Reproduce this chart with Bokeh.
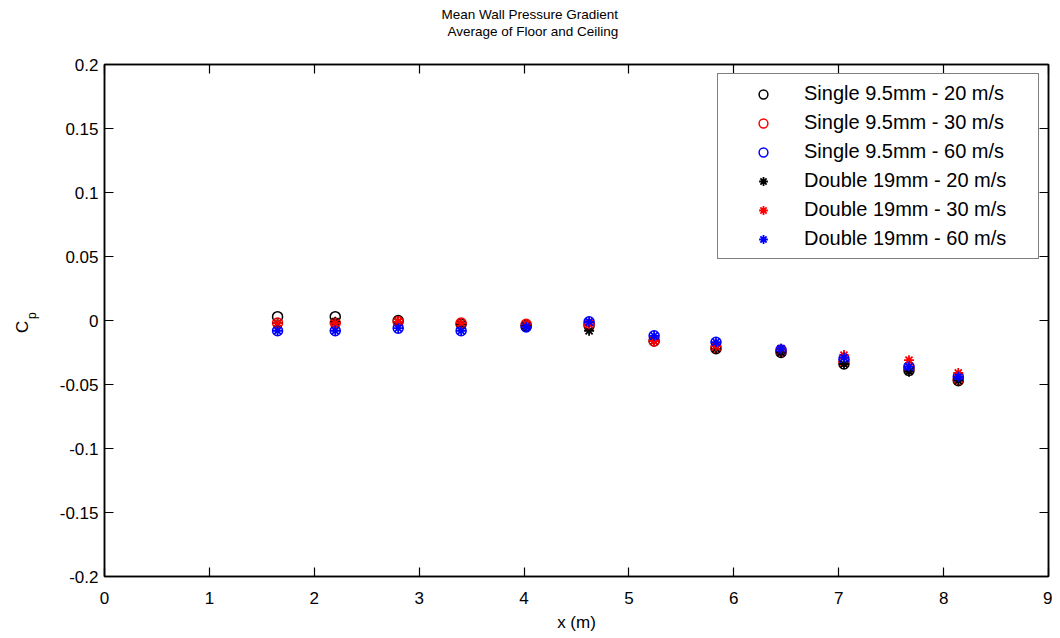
import math
from bokeh.plotting import figure
from bokeh.layouts import row
from bokeh.models import (FixedTicker, LinearAxis, Legend, LegendItem, Title, Range1d)
from bokeh.core.properties import value
from bokeh.embed import file_html
from bokeh.resources import INLINE

# ---- data ----
x_pos = [1.65, 2.2, 2.8, 3.4, 4.02, 4.62, 5.24, 5.83, 6.45, 7.05, 7.67, 8.14]
single_20 = [0.003, 0.003, 0.000, -0.003, -0.004, -0.004, -0.016, -0.022, -0.025, -0.034, -0.039, -0.047]
single_30 = [-0.002, -0.002, -0.001, -0.002, -0.003, -0.003, -0.016, -0.021, -0.024, -0.032, -0.037, -0.046]
single_60 = [-0.008, -0.008, -0.006, -0.008, -0.005, -0.001, -0.012, -0.017, -0.023, -0.030, -0.036, -0.044]
double_20 = [-0.002, -0.001, -0.001, -0.003, -0.004, -0.008, -0.016, -0.022, -0.025, -0.034, -0.040, -0.047]
double_30 = [-0.002, -0.002, -0.001, -0.002, -0.003, -0.003, -0.016, -0.020, -0.022, -0.027, -0.031, -0.041]
double_60 = [-0.008, -0.008, -0.006, -0.008, -0.005, -0.001, -0.012, -0.017, -0.022, -0.029, -0.036, -0.044]

series_names = ["Single 9.5mm - 20 m/s", "Single 9.5mm - 30 m/s", "Single 9.5mm - 60 m/s",
                "Double 19mm - 20 m/s", "Double 19mm - 30 m/s", "Double 19mm - 60 m/s"]
series_values = [single_20, single_30, single_60, double_20, double_30, double_60]
series_colors = ["#000000", "#ff0000", "#0000ff", "#000000", "#ff0000", "#0000ff"]
series_markers = ["circle", "circle", "circle", "asterisk", "asterisk", "asterisk"]

x_ticks = [0, 1, 2, 3, 4, 5, 6, 7, 8, 9]
x_tick_labels = ["0", "1", "2", "3", "4", "5", "6", "7", "8", "9"]
y_ticks = [-0.2, -0.15, -0.1, -0.05, 0, 0.05, 0.1, 0.15, 0.2]
y_tick_labels = ["-0.2", "-0.15", "-0.1", "-0.05", "0", "0.05", "0.1", "0.15", "0.2"]

title_lines = ["Mean Wall Pressure Gradient", "Average of Floor and Ceiling"]
x_label = "x (m)"
y_label_main = "C"
y_label_sub = "p"

FONT = "Liberation Sans"

# ---- left strip holding the C_p label ----
LW, H = 40, 638
lab = figure(width=LW, height=H, output_backend="svg", toolbar_location=None,
             x_range=Range1d(0, LW), y_range=Range1d(0, H),
             min_border=0, x_axis_location=None, y_axis_location=None)
lab.grid.visible = False
lab.outline_line_color = None
lab.text(x=[22], y=[H - 327], text=[y_label_main], angle=math.pi / 2,
         text_align="center", text_baseline="middle", text_font=value(FONT),
         text_font_size="17px", text_color="#000000")
lab.text(x=[31], y=[H - 313], text=[y_label_sub], angle=math.pi / 2,
         text_align="center", text_baseline="middle", text_font=value(FONT),
         text_font_size="12px", text_color="#000000")

# ---- main plot ----
p = figure(width=1052 - LW, height=H, output_backend="svg", toolbar_location=None,
           x_range=Range1d(0, 9), y_range=Range1d(-0.2, 0.2),
           min_border_left=104 - LW, min_border_right=4, min_border_top=64, min_border_bottom=62,
           x_axis_location=None, y_axis_location=None)
p.grid.visible = False
p.outline_line_color = "#000000"
p.outline_line_width = 1.5
p.background_fill_color = "white"
p.border_fill_color = "white"

def style_axis(ax, ticks, labels, show_labels, size="17px"):
    ax.ticker = FixedTicker(ticks=ticks)
    if show_labels:
        ax.major_label_overrides = {t: l for t, l in zip(ticks, labels)}
    else:
        ax.major_label_overrides = {t: "" for t in ticks}
        ax.major_label_standoff = 0
    ax.minor_tick_line_color = None
    ax.major_tick_in = 9
    ax.major_tick_out = 0
    ax.major_tick_line_color = "#000000"
    ax.major_tick_line_width = 1.2
    ax.axis_line_color = "#000000"
    ax.axis_line_width = 1.5
    ax.major_label_text_font = FONT
    ax.major_label_text_font_size = size
    ax.major_label_text_color = "#000000"

xb = LinearAxis(axis_label=x_label)
style_axis(xb, x_ticks, x_tick_labels, True)
xb.major_label_standoff = 15
xb.axis_label_standoff = 6
xb.axis_label_text_font = FONT
xb.axis_label_text_font_size = "17px"
xb.axis_label_text_font_style = "normal"
xb.axis_label_text_color = "#000000"
p.add_layout(xb, "below")

yl = LinearAxis()
style_axis(yl, y_ticks, y_tick_labels, True)
yl.major_label_standoff = 6
p.add_layout(yl, "left")

xt = LinearAxis()
style_axis(xt, x_ticks, x_tick_labels, False)
p.add_layout(xt, "above")

yr = LinearAxis()
style_axis(yr, y_ticks, y_tick_labels, False)
p.add_layout(yr, "right")

# titles: spacer first (closest to frame), then line 2, then line 1
p.add_layout(Title(text=" ", text_font_size="2px", standoff=22), "above")
p.add_layout(Title(text=title_lines[1], align="left", offset=343, text_font=FONT,
                   text_font_size="13.5px", text_font_style="normal", text_color="#000000",
                   standoff=0), "above")
p.add_layout(Title(text=title_lines[0], align="left", offset=337, text_font=FONT,
                   text_font_size="13.5px", text_font_style="normal", text_color="#000000",
                   standoff=0), "above")

items = []
for name, vals, col, mk in zip(series_names, series_values, series_colors, series_markers):
    if mk == "circle":
        r = p.scatter(x_pos, vals, marker="circle", size=10, fill_color=None,
                      line_color=col, line_width=1.5)
    else:
        r = p.scatter(x_pos, vals, marker="asterisk", size=10,
                      line_color=col, line_width=1.8)
    items.append(LegendItem(label=name, renderers=[r]))

legend = Legend(items=items, location="top_right", margin=9, padding=8,
                glyph_width=74, glyph_height=22, label_standoff=4, label_width=226,
                label_height=22, spacing=6,
                label_text_font=FONT, label_text_font_size="20px", label_text_color="#000000",
                border_line_color="#000000", border_line_width=1.2,
                background_fill_color="white", background_fill_alpha=1.0)
p.add_layout(legend, "center")

layout = row(lab, p, spacing=0)
open("out.html", "w").write(file_html(layout, INLINE))
